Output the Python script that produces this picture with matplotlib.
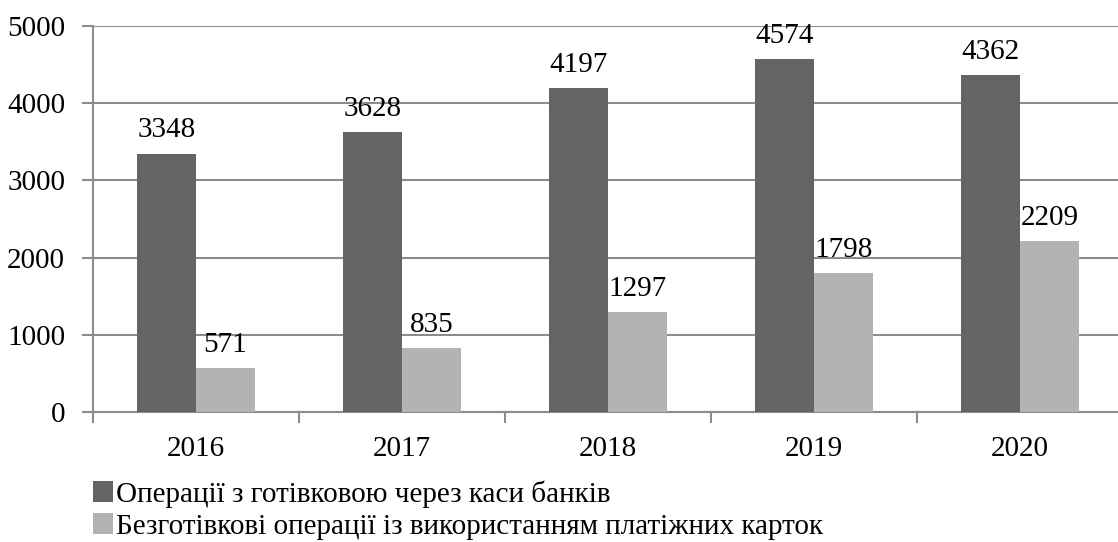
import matplotlib.pyplot as plt
import numpy as np

years = ["2016", "2017", "2018", "2019", "2020"]
cash_ops = [3348, 3628, 4197, 4574, 4362]
card_ops = [571, 835, 1297, 1798, 2209]
labels = ["Операції з готівковою через каси банків",
          "Безготівкові операції із використанням платіжних карток"]

plt.rcParams['font.family'] = ['Liberation Serif', 'DejaVu Serif']

W, H = 1118, 542
fig = plt.figure(figsize=(W / 100, H / 100), dpi=100)
# axes runs a little past the right edge, as in the original
ax = fig.add_axes([93 / W, 1 - 412 / H, 1030 / W, 386 / H])

x = np.arange(len(years))
bw = 0.286
grey = "#8c8c8c"

b1 = ax.bar(x - bw / 2, cash_ops, bw, color="#646464", label=labels[0], zorder=3)
b2 = ax.bar(x + bw / 2, card_ops, bw, color="#b3b3b3", label=labels[1], zorder=3)

for bars in (b1, b2):
    for r in bars:
        ax.text(r.get_x() + r.get_width() / 2, r.get_height() + 130, str(int(r.get_height())),
                ha="center", va="bottom", fontsize=21, zorder=4)

ax.set_xlim(-0.5, len(years) - 0.5)
ax.set_ylim(0, 5000)
ax.set_yticks(range(0, 5001, 1000))
ax.yaxis.grid(True, color=grey, lw=1.5, zorder=0)

ax.set_xticks(x)
ax.set_xticklabels(years, fontsize=21)
ax.set_xticks(np.arange(-0.5, len(years)), minor=True)
ax.tick_params(axis="x", which="major", length=0, pad=17)
ax.tick_params(axis="x", which="minor", length=8, width=1.5, color=grey, direction="out")
ax.tick_params(axis="y", length=8, width=1.5, color=grey, labelsize=21, pad=12)

for s in ("top", "right"):
    ax.spines[s].set_visible(False)
for s in ("left", "bottom"):
    ax.spines[s].set_color(grey)
    ax.spines[s].set_linewidth(1.5)

fig.legend(loc="upper left", bbox_to_anchor=(93 / W, 1 - 480 / H), frameon=False,
           fontsize=21, handlelength=0.7, handleheight=0.7, handletextpad=0.08,
           labelspacing=0.2, borderpad=0, borderaxespad=0)

fig.savefig("out.png", dpi=100)
